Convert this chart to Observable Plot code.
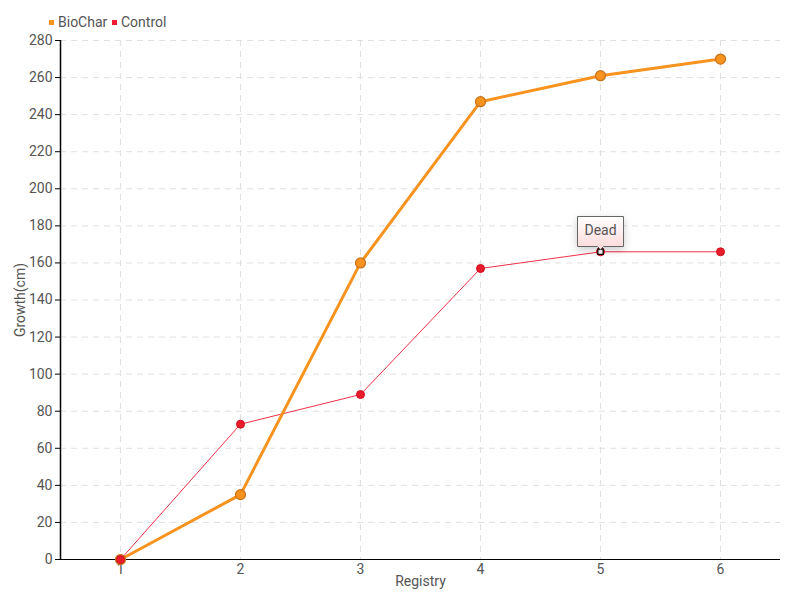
<!DOCTYPE html>
<html>
<head>
<meta charset="utf-8">
<script src="https://cdn.jsdelivr.net/npm/d3@7"></script>
<script src="https://cdn.jsdelivr.net/npm/@observablehq/plot@0.6"></script>
<style>
  body { margin: 0; background: #fff; font-family: Roboto, sans-serif; }
  #legend { height: 30px; position: relative; font-size: 14px; color: #555; }
  .item { position: absolute; top: 14px; display: flex; align-items: center; }
  .sw { width: 5px; height: 5px; margin-right: 4px; }
</style>
</head>
<body>
<div id="legend"></div>
<div id="chart"></div>
<script>
const registry = [1, 2, 3, 4, 5, 6];
const biochar = [0, 35, 160, 247, 261, 270];
const control = [0, 73, 89, 157, 166, 166];
const seriesNames = ["BioChar", "Control"];
const seriesColors = ["#f7931e", "#ee1c2e"];
const yTicks = d3.range(0, 281, 20);
const annotation = [{x: 5, y: 166, label: "Dead"}];

const bioData = registry.map((r, i) => ({x: r, y: biochar[i]}));
const ctlData = registry.map((r, i) => ({x: r, y: control[i]}));

const FONT = "Roboto, sans-serif";

// legend
const legend = document.getElementById("legend");
const lefts = [49, 112];
seriesNames.forEach((n, i) => {
  const d = document.createElement("div");
  d.className = "item";
  d.style.left = lefts[i] + "px";
  d.innerHTML = `<span class="sw" style="background:${seriesColors[i]}"></span><span>${n}</span>`;
  legend.appendChild(d);
});

const defs = () => {
  const g = d3.create("svg:defs");
  const lg = g.append("linearGradient").attr("id", "tipgrad").attr("x1", 0).attr("y1", 0).attr("x2", 0).attr("y2", 1);
  lg.append("stop").attr("offset", "0%").attr("stop-color", "#ffffff");
  lg.append("stop").attr("offset", "100%").attr("stop-color", "#fcd8d8");
  return g.node();
};

const chart = Plot.plot({
  width: 800,
  height: 570,
  marginLeft: 60,
  marginRight: 20,
  marginTop: 10,
  marginBottom: 41,
  style: {fontFamily: FONT, fontSize: "14px", color: "#555", background: "#fff"},
  x: {domain: [0.5, 6.5]},
  y: {domain: [0, 280]},
  marks: [
    defs,
    Plot.ruleY(yTicks.slice(1), {stroke: "#e0e0e0", strokeDasharray: "6,5"}),
    Plot.ruleX(registry, {stroke: "#e0e0e0", strokeDasharray: "6,5"}),
    Plot.axisY({ticks: yTicks, tickSize: 5, tickPadding: 3, tickFormat: d => d, label: "Growth(cm)", labelAnchor: "center", labelArrow: "none", labelOffset: 45, fill: "#555", stroke: "#000", fontSize: 14}),
    Plot.axisX({ticks: registry, tickSize: 0, tickPadding: 5, tickFormat: d => d, label: "Registry", labelAnchor: "center", labelArrow: "none", labelOffset: 26, fill: "#555", fontSize: 14}),
    Plot.ruleX([0.5], {stroke: "#000", strokeWidth: 1.5}),
    Plot.ruleY([0], {stroke: "#000", strokeWidth: 1.2}),
    Plot.line(ctlData, {x: "x", y: "y", stroke: "#f0304a", strokeWidth: 1}),
    Plot.line(bioData, {x: "x", y: "y", stroke: "#f7931e", strokeWidth: 3}),
    Plot.dot(bioData, {x: "x", y: "y", r: 5, fill: "#f7931e", stroke: "#c8701a", strokeWidth: 1.2}),
    Plot.dot(ctlData, {x: "x", y: "y", r: 4, fill: "#e81c2a", stroke: "#d0101e", strokeWidth: 1}),
    Plot.dot(annotation, {x: "x", y: "y", symbol: "square", r: 3, fill: "#fff", stroke: "#000", strokeWidth: 1.2}),
    Plot.tip(annotation, {x: "x", y: "y", title: "label", anchor: "bottom", pointerSize: 6, textPadding: 7, fill: "url(#tipgrad)", stroke: "#666", fontSize: 14, fontFamily: FONT, dy: -2})
  ]
});
document.getElementById("chart").appendChild(chart);
</script>
</body>
</html>
